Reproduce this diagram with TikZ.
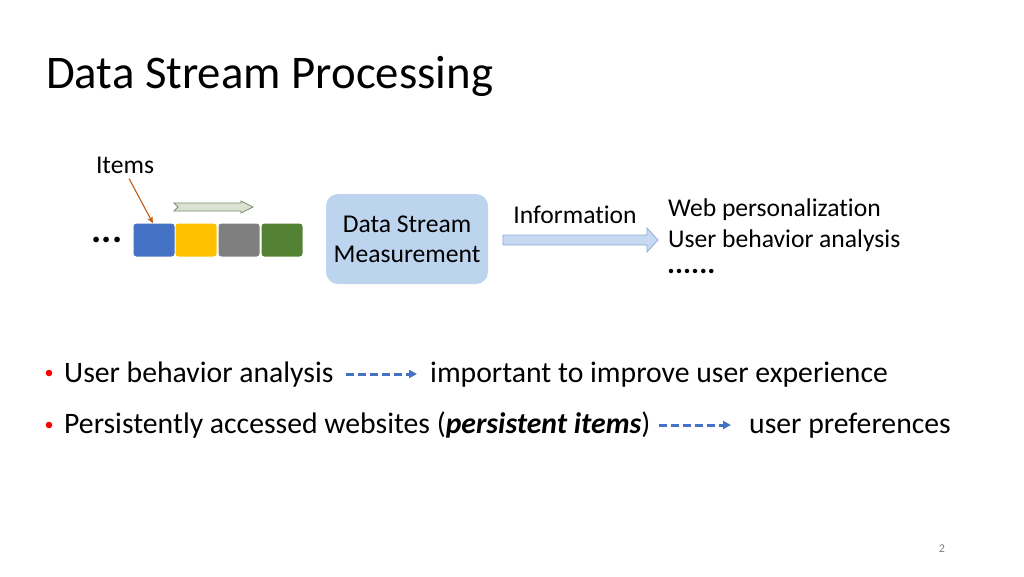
\documentclass[tikz,border=0pt]{standalone}
\usepackage{fontspec}
\setmainfont[Ligatures=NoCommon]{Carlito}
\usetikzlibrary{arrows.meta}

\definecolor{itemblue}{HTML}{4472C4}
\definecolor{itemyellow}{HTML}{FFC000}
\definecolor{itemgray}{HTML}{7F7F7F}
\definecolor{itemgreen}{HTML}{548235}
\definecolor{boxblue}{HTML}{BDD4EE}
\definecolor{arrowblue}{HTML}{C5D9F1}
\definecolor{arrowedge}{HTML}{8FAADC}
\definecolor{flowfill}{HTML}{DCE2D2}
\definecolor{flowedge}{HTML}{7E8C66}
\definecolor{pointer}{HTML}{C55A11}

\begin{document}
\begin{tikzpicture}[x=1pt, y=-1pt,
    t/.style={inner sep=0pt, font=\fontsize{25.6}{30}\selectfont},
    bl/.style={inner sep=0pt, anchor=base west, text height=16pt, text depth=0pt,
        font=\fontsize{29.7}{34}\selectfont},
    item/.style={minimum width=41pt, minimum height=33pt, inner sep=0pt, rounded corners=3pt},
    leadsto/.style={draw=itemblue, line width=3pt, dash pattern=on 8pt off 4pt,
        -{Triangle[length=8pt,width=8pt]}}]
    \useasboundingbox (0,0) rectangle (1024,576);

    \node[anchor=base west, inner sep=0pt, font=\fontsize{46.8}{52}\selectfont] (title) at (46,88) {Data Stream Processing};

    % stream of items
    \node[t] (items) at (125,165) {Items};
    \node[t, anchor=base, font=\fontsize{38}{40}\bfseries] (dots) at (107,242) {...};
    \node[item, fill=itemblue] (1) at (154,240) {};
    \node[item, fill=itemyellow] (2) at (196,240) {};
    \node[item, fill=itemgray] (3) at (239,240) {};
    \node[item, fill=itemgreen] (4) at (282,240) {};

    \draw[pointer, line width=1.1pt, -{Stealth[length=7pt,width=6pt]}] ([xshift=4pt,yshift=-5pt]items.south) to ([xshift=-1pt]1.north);
    \filldraw[fill=flowfill, draw=flowedge, line width=0.8pt] (174,203) -- (241,203) -- (241,201) -- (253,207)
        -- (241,213) -- (241,211) -- (174,211) -- (178,207) -- cycle;

    % measurement
    \node[t, fill=boxblue, rounded corners=12pt, minimum width=162pt, minimum height=90pt, align=center] (dsm) at (407,239)
        {Data Stream\\Measurement};
    \node[t] (info) at (575,215) {Information};
    \filldraw[fill=arrowblue, draw=arrowedge, line width=0.8pt] (503,235) -- (647,235) -- (647,228) -- (658,240)
        -- (647,252) -- (647,245) -- (503,245) -- cycle;

    \node[t, anchor=base west] (web) at (668,216) {Web personalization};
    \node[t, anchor=base west] (uba) at (668,247) {User behavior analysis};
    \node[t, anchor=base west, font=\fontsize{30}{30}\bfseries] (more) at (667,273) {......};

    % bullets
    \fill[red] (49,373) circle (3.3pt);
    \fill[red] (49,425) circle (3.3pt);
    \node[bl] (b1) at (64,382) {User behavior analysis};
    \node[bl] (b1r) at (430,382) {important to improve user experience};
    \node[bl] (b2) at (64,433) {Persistently accessed websites (\textbf{\textit{persistent items}})};
    \node[bl] (b2r) at (749,433) {user preferences};

    \draw[leadsto, shorten <=12pt, shorten >=13pt] (b1) to (b1r);
    \draw[leadsto, shorten <=8pt, shorten >=18pt] (b2) to (b2r);

    \node[inner sep=0pt, text=gray, font=\fontsize{12}{14}\selectfont] (page) at (942,549) {2};
\end{tikzpicture}
\end{document}
